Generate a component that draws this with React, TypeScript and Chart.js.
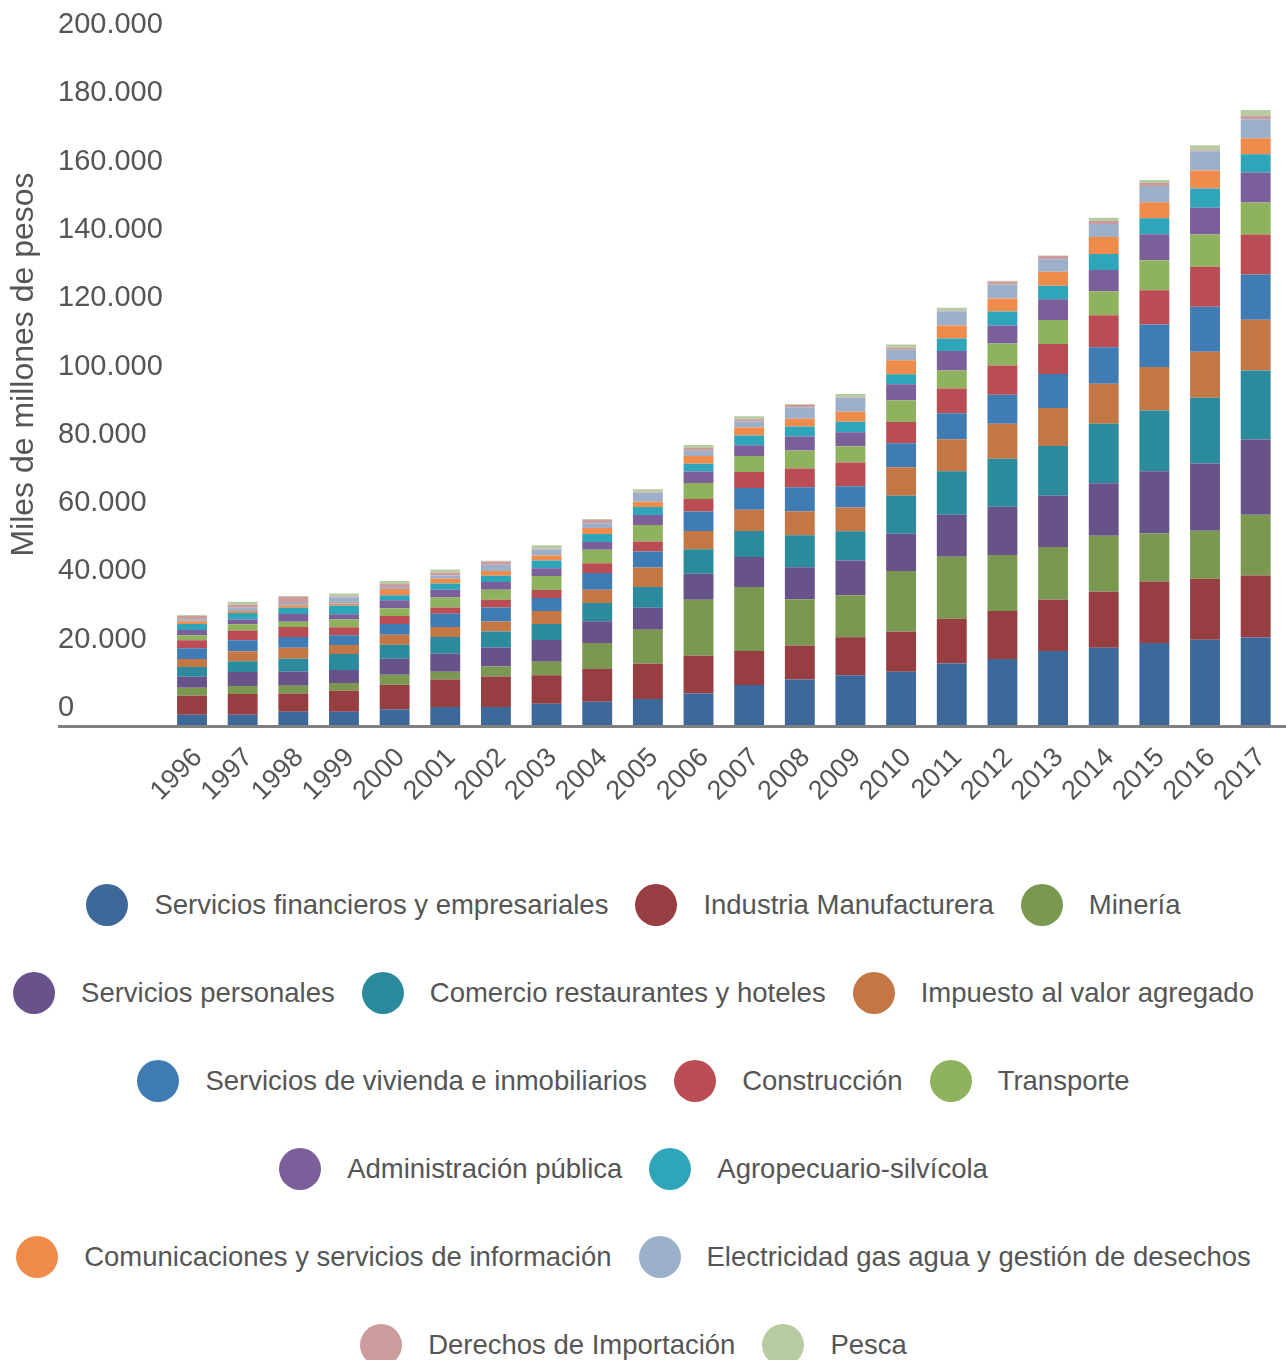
import React, { useEffect, useRef } from "react";
import { Chart, registerables } from "chart.js";

Chart.register(...registerables);

const FONT = "'Liberation Sans', Arial, Helvetica, sans-serif";
const TEXT_COLOR = "#555555";

const years = [
  "1996", "1997", "1998", "1999", "2000", "2001", "2002", "2003", "2004", "2005", "2006",
  "2007", "2008", "2009", "2010", "2011", "2012", "2013", "2014", "2015", "2016", "2017",
];

const yAxisMin = 0;
const yAxisMax = 200000;
const yAxisStep = 20000;
const yAxisTitle = "Miles de millones de pesos";

const serviciosFinancieros = [3000, 3000, 3900, 3900, 4600, 5300, 5300, 6200, 6800, 7600, 9200, 11700, 13300, 14600, 15600, 18000, 19300, 21700, 22600, 24000, 25000, 25600];
const industriaManufacturera = [5600, 6100, 5300, 6100, 7200, 8000, 8900, 8400, 9600, 10300, 11100, 10000, 10000, 11100, 11700, 13100, 14100, 15000, 16400, 18000, 17800, 18200];
const mineria = [2300, 2300, 2300, 2300, 2900, 2300, 2900, 3900, 7600, 10000, 16400, 18700, 13500, 12300, 17800, 18200, 16400, 15400, 16400, 14100, 14100, 17800];
const serviciosPersonales = [3200, 4100, 4100, 3800, 4700, 5300, 5600, 6400, 6400, 6400, 7600, 8800, 9400, 10200, 10900, 12300, 14100, 15000, 15400, 18200, 19700, 22000];
const comercio = [2900, 3200, 3800, 4700, 4100, 4900, 4700, 4700, 5300, 6100, 7200, 7600, 9400, 8500, 11100, 12700, 14100, 14600, 17400, 17800, 19200, 20200];
const impuestoValorAgregado = [2300, 2900, 3200, 2600, 2900, 2900, 2900, 3800, 3900, 5700, 5300, 6200, 7000, 7000, 8400, 9400, 10200, 11100, 11700, 12700, 13500, 14900];
const vivienda = [3200, 3200, 3200, 2900, 3200, 3900, 4100, 3800, 4900, 4700, 5700, 6400, 7000, 6200, 7000, 7600, 8500, 10000, 10700, 12500, 13200, 13200];
const construccion = [2300, 2900, 2900, 2300, 2300, 1800, 2300, 2300, 2900, 2900, 3700, 4700, 5500, 7000, 6200, 7200, 8600, 8800, 9400, 10000, 11700, 11700];
const transporte = [1500, 1800, 1500, 2300, 2300, 2900, 2900, 4100, 3900, 4900, 4700, 4700, 5300, 4700, 6400, 5300, 6400, 7000, 7000, 8800, 9400, 9400];
const administracionPublica = [1500, 1400, 2300, 1500, 2300, 2300, 2300, 2300, 2300, 2900, 3300, 3100, 4100, 4100, 4700, 5700, 5300, 6100, 6200, 7600, 7900, 8800];
const agropecuario = [1800, 1900, 1800, 2600, 1500, 1800, 1800, 2300, 2300, 2300, 2300, 2900, 2900, 3100, 2900, 3700, 4100, 3900, 4700, 4700, 5600, 5300];
const comunicaciones = [800, 600, 800, 600, 1800, 1400, 1400, 1400, 1800, 1600, 2300, 2300, 2300, 2900, 4100, 3800, 3800, 4100, 5000, 4700, 5300, 4700];
const electricidad = [600, 900, 600, 1800, 600, 1000, 1800, 1800, 1400, 2500, 1500, 1800, 3300, 4100, 3100, 4100, 4100, 3700, 3800, 4700, 5600, 5600];
const derechosImportacion = [1000, 900, 1900, 200, 900, 800, 1000, 200, 1000, 200, 800, 600, 800, 200, 600, 200, 900, 900, 900, 900, 300, 900];
const pesca = [200, 900, 200, 900, 900, 900, 200, 1000, 200, 900, 900, 900, 200, 900, 900, 900, 200, 200, 900, 900, 1500, 1800];

const seriesNames = [
  "Servicios financieros y empresariales",
  "Industria Manufacturera",
  "Minería",
  "Servicios personales",
  "Comercio restaurantes y hoteles",
  "Impuesto al valor agregado",
  "Servicios de vivienda e inmobiliarios",
  "Construcción",
  "Transporte",
  "Administración pública",
  "Agropecuario-silvícola",
  "Comunicaciones y servicios de información",
  "Electricidad gas agua y gestión de desechos",
  "Derechos de Importación",
  "Pesca",
];

const seriesColors = [
  "#3e6899", "#973e43", "#7a9850", "#67528a", "#2b8b9d", "#c27744", "#3e7cb3", "#b94d53",
  "#8fb25e", "#7a5f9b", "#2fa5b9", "#f08c4b", "#9cb0ca", "#cc9c9d", "#b8cca3",
];

const seriesValues = [
  serviciosFinancieros, industriaManufacturera, mineria, serviciosPersonales, comercio,
  impuestoValorAgregado, vivienda, construccion, transporte, administracionPublica,
  agropecuario, comunicaciones, electricidad, derechosImportacion, pesca,
];

const LABEL_OFFSET = -17;

const formatThousands = (v: number) => String(v).replace(/\B(?=(\d{3})+(?!\d))/g, ".");

const baselinePlugin = {
  id: "baselineAxis",
  afterDatasetsDraw(chart: any) {
    const y = chart.scales.y;
    const ctx = chart.ctx;
    const py = y.getPixelForValue(0);
    ctx.save();
    ctx.strokeStyle = "#808080";
    ctx.lineWidth = 3;
    ctx.beginPath();
    ctx.moveTo(y.left, py + 1.5);
    ctx.lineTo(chart.width, py + 1.5);
    ctx.stroke();
    ctx.restore();
  },
};

const yTitlePlugin = {
  id: "yTitle",
  afterDraw(chart: any) {
    const y = chart.scales.y;
    const ctx = chart.ctx;
    const mid = y.getPixelForValue((yAxisMin + yAxisMax) / 2) - 19;
    ctx.save();
    ctx.translate(24, mid);
    ctx.rotate(-Math.PI / 2);
    ctx.font = `32px ${FONT}`;
    ctx.fillStyle = TEXT_COLOR;
    ctx.textAlign = "center";
    ctx.textBaseline = "middle";
    ctx.fillText(yAxisTitle, 0, 0);
    ctx.restore();
  },
};

export default function App() {
  const canvasRef = useRef<HTMLCanvasElement>(null);

  useEffect(() => {
    const prevMargin = document.body.style.margin;
    document.body.style.margin = "0";
    const canvas = canvasRef.current;
    if (!canvas) return;
    Chart.defaults.font.family = FONT;
    const chart = new Chart(canvas, {
      type: "bar",
      data: {
        labels: years,
        datasets: seriesNames.map((name, i) => ({
          label: name,
          data: seriesValues[i],
          backgroundColor: seriesColors[i],
          borderWidth: 0,
          barPercentage: 0.59,
          categoryPercentage: 1,
        })),
      },
      options: {
        animation: false,
        responsive: true,
        maintainAspectRatio: false,
        layout: { padding: { left: 58, right: 5, top: 42, bottom: 0 } },
        plugins: {
          legend: { display: false },
          tooltip: { enabled: false },
        },
        scales: {
          x: {
            stacked: true,
            grid: { display: false, drawTicks: false },
            border: { display: false },
            ticks: {
              font: { size: 27, family: FONT },
              color: TEXT_COLOR,
              minRotation: 45,
              maxRotation: 45,
              autoSkip: false,
              padding: 17,
              labelOffset: 6,
            },
            afterFit: (s: any) => {
              s.height = 110;
              s.paddingLeft = 0;
              s.paddingRight = 0;
            },
          },
          y: {
            stacked: true,
            min: yAxisMin,
            max: yAxisMax,
            grid: { display: false, drawTicks: false },
            border: { display: false },
            ticks: {
              stepSize: yAxisStep,
              font: { size: 29, family: FONT },
              color: TEXT_COLOR,
              crossAlign: "far",
              labelOffset: LABEL_OFFSET,
              padding: 0,
              callback: (v: any) => formatThousands(Number(v)),
            },
            afterFit: (s: any) => {
              s.width = 108.7;
            },
          },
        },
      } as any,
      plugins: [baselinePlugin, yTitlePlugin],
    });
    return () => {
      chart.destroy();
      document.body.style.margin = prevMargin;
    };
  }, []);

  return (
    <div style={{ width: 1286, fontFamily: FONT }}>
      <div style={{ position: "relative", width: 1286, height: 835 }}>
        <canvas ref={canvasRef} />
      </div>
      <div
        style={{
          display: "flex",
          flexWrap: "wrap",
          justifyContent: "center",
          columnGap: 27,
          rowGap: 46,
          paddingTop: 49,
          paddingRight: 19,
          boxSizing: "border-box",
          width: 1286,
        }}
      >
        {seriesNames.map((name, i) => (
          <div key={name} style={{ display: "flex", alignItems: "center", gap: 26, height: 42 }}>
            <span
              style={{
                display: "inline-block",
                width: 42,
                height: 42,
                borderRadius: "50%",
                background: seriesColors[i],
                flex: "0 0 auto",
              }}
            />
            <span style={{ fontSize: 27.5, color: TEXT_COLOR, whiteSpace: "nowrap", lineHeight: "42px" }}>
              {name}
            </span>
          </div>
        ))}
      </div>
    </div>
  );
}
